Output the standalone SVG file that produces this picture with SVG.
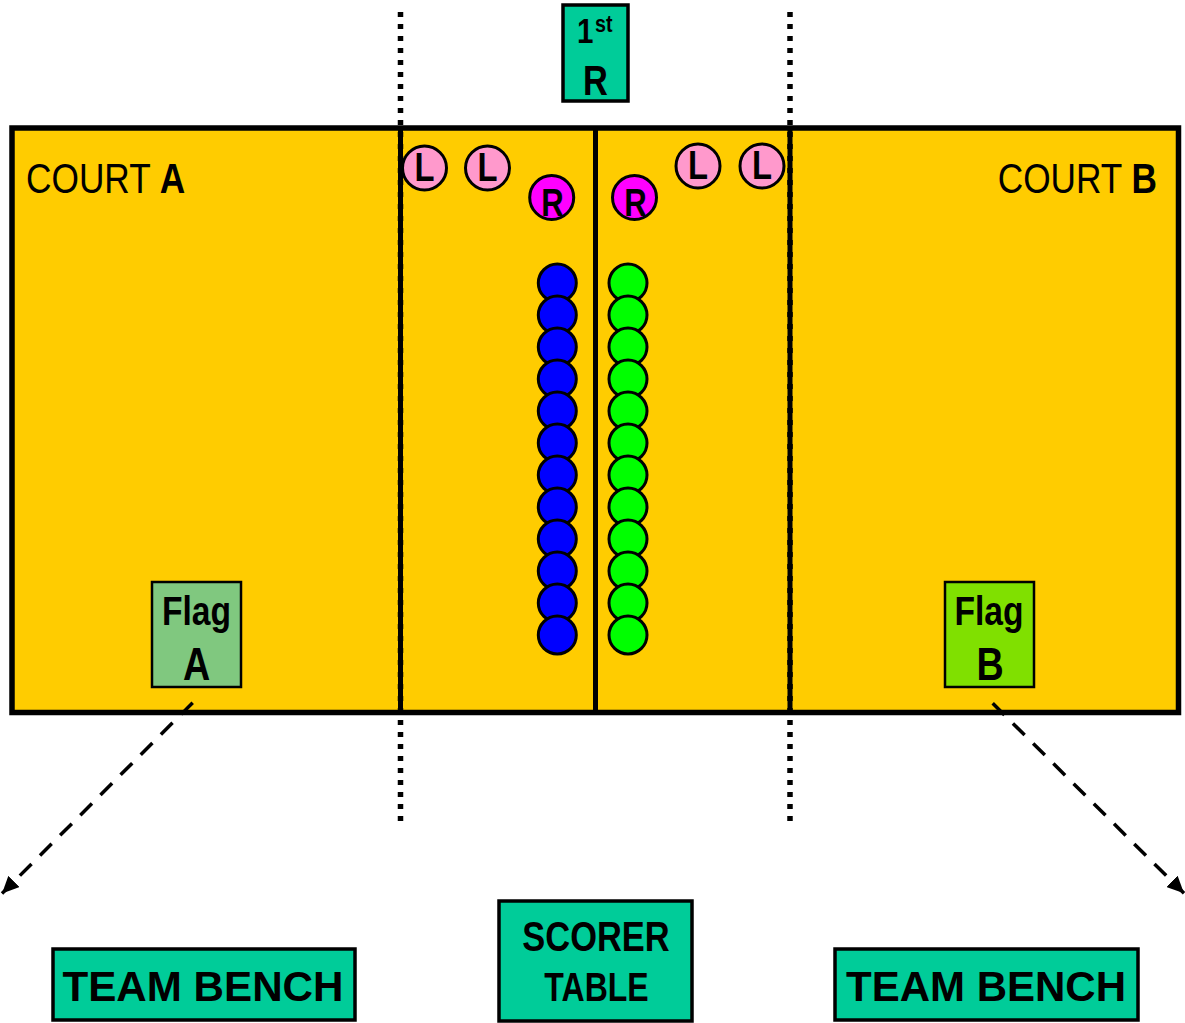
<svg xmlns="http://www.w3.org/2000/svg" width="1185" height="1023" viewBox="0 0 1185 1023">
<style>
.t{font-family:"Liberation Sans",Arial,Helvetica,sans-serif;fill:#000}
.b{font-weight:bold}
.box{fill:#00CC99;stroke:#000;stroke-width:3.5}
.pl{fill:#FF99CC;stroke:#000;stroke-width:3}
.pr{fill:#FF00FF;stroke:#000;stroke-width:3}
.bl{fill:#0000FF;stroke:#000;stroke-width:3}
.gr{fill:#00FF00;stroke:#000;stroke-width:3}
.dot{stroke:#000;stroke-width:5.5;stroke-dasharray:5 7;fill:none}
.ln{stroke:#000;stroke-width:5;fill:none}
.arr{stroke:#000;stroke-width:3.5;stroke-dasharray:16.5 12;fill:none;marker-end:url(#ah)}
</style>
<defs>
<marker id="ah" markerUnits="userSpaceOnUse" markerWidth="18" markerHeight="16" refX="17" refY="8" orient="auto">
<path d="M0,0 L17,8 L0,16 z" fill="#000"/>
</marker>
</defs>
<rect width="1185" height="1023" fill="#fff"/>
<g id="court">
<rect x="12" y="128" width="1166.5" height="584.5" fill="#FFCC00" stroke="#000" stroke-width="5.5"/>
<line class="ln" x1="400.5" y1="128" x2="400.5" y2="712.5"/>
<line class="ln" x1="595.5" y1="128" x2="595.5" y2="712.5"/>
<line class="ln" x1="790" y1="128" x2="790" y2="712.5"/>
</g>
<g id="dotted-lines">
<line class="dot" x1="400.5" y1="12" x2="400.5" y2="828"/>
<line class="dot" x1="790" y1="12" x2="790" y2="828"/>
</g>
<g id="court-a-label">
<text class="t" font-size="43" transform="translate(26,193) scale(0.82,1)">COURT <tspan class="b">A</tspan></text>
</g>
<g id="court-b-label">
<text class="t" font-size="43" text-anchor="end" transform="translate(1157,193) scale(0.82,1)">COURT <tspan class="b">B</tspan></text>
</g>
<g id="first-referee">
<rect class="box" x="563" y="5" width="65" height="96"/>
<text class="t b" font-size="36" transform="translate(577,43) scale(0.82,1)">1</text>
<text class="t b" font-size="24" transform="translate(595,32) scale(0.82,1)">st</text>
<text class="t b" font-size="42" text-anchor="middle" transform="translate(595.5,95) scale(0.82,1)">R</text>
</g>
<g id="line-judge-1"><circle class="pl" cx="424.5" cy="168" r="22"/><text class="t b" font-size="40" text-anchor="middle" transform="translate(424.5,181) scale(0.82,1)">L</text></g>
<g id="line-judge-2"><circle class="pl" cx="487.5" cy="168" r="22"/><text class="t b" font-size="40" text-anchor="middle" transform="translate(487.5,181) scale(0.82,1)">L</text></g>
<g id="line-judge-3"><circle class="pl" cx="698" cy="166" r="22"/><text class="t b" font-size="40" text-anchor="middle" transform="translate(698,179) scale(0.82,1)">L</text></g>
<g id="line-judge-4"><circle class="pl" cx="762" cy="166" r="22"/><text class="t b" font-size="40" text-anchor="middle" transform="translate(762,179) scale(0.82,1)">L</text></g>
<g id="referee-left"><circle class="pr" cx="551.7" cy="197.5" r="22"/><text class="t b" font-size="38" text-anchor="middle" transform="translate(552.5,215.5) scale(0.82,1)">R</text></g>
<g id="referee-right"><circle class="pr" cx="634.5" cy="197.5" r="22"/><text class="t b" font-size="38" text-anchor="middle" transform="translate(635.5,215.5) scale(0.82,1)">R</text></g>
<g id="team-a-players">
<circle class="bl" cx="557.3" cy="283" r="19"/>
<circle class="bl" cx="557.3" cy="315" r="19"/>
<circle class="bl" cx="557.3" cy="347" r="19"/>
<circle class="bl" cx="557.3" cy="379" r="19"/>
<circle class="bl" cx="557.3" cy="411" r="19"/>
<circle class="bl" cx="557.3" cy="443" r="19"/>
<circle class="bl" cx="557.3" cy="475" r="19"/>
<circle class="bl" cx="557.3" cy="507" r="19"/>
<circle class="bl" cx="557.3" cy="539" r="19"/>
<circle class="bl" cx="557.3" cy="571" r="19"/>
<circle class="bl" cx="557.3" cy="603" r="19"/>
<circle class="bl" cx="557.3" cy="635" r="19"/>
</g>
<g id="team-b-players">
<circle class="gr" cx="628" cy="283" r="19"/>
<circle class="gr" cx="628" cy="315" r="19"/>
<circle class="gr" cx="628" cy="347" r="19"/>
<circle class="gr" cx="628" cy="379" r="19"/>
<circle class="gr" cx="628" cy="411" r="19"/>
<circle class="gr" cx="628" cy="443" r="19"/>
<circle class="gr" cx="628" cy="475" r="19"/>
<circle class="gr" cx="628" cy="507" r="19"/>
<circle class="gr" cx="628" cy="539" r="19"/>
<circle class="gr" cx="628" cy="571" r="19"/>
<circle class="gr" cx="628" cy="603" r="19"/>
<circle class="gr" cx="628" cy="635" r="19"/>
</g>
<g id="flag-a">
<rect x="152" y="582" width="89" height="105" fill="#80C87F" stroke="#000" stroke-width="2.5"/>
<text class="t b" font-size="41" text-anchor="middle" transform="translate(196.5,624.5) scale(0.82,1)">Flag</text>
<text class="t b" font-size="46" text-anchor="middle" transform="translate(196.5,680) scale(0.82,1)">A</text>
</g>
<g id="flag-b">
<rect x="945" y="582" width="89" height="105" fill="#80E000" stroke="#000" stroke-width="2.5"/>
<text class="t b" font-size="41" text-anchor="middle" transform="translate(989,624.5) scale(0.82,1)">Flag</text>
<text class="t b" font-size="46" text-anchor="middle" transform="translate(990,680) scale(0.82,1)">B</text>
</g>
<g id="connectors">
<line class="arr" x1="192.7" y1="702.7" x2="2" y2="893.5"/>
<line class="arr" x1="992.7" y1="703.3" x2="1184" y2="893.3"/>
</g>
<g id="team-bench-a">
<rect class="box" x="53" y="949" width="302" height="71"/>
<text class="t b" font-size="42" text-anchor="middle" textLength="281" lengthAdjust="spacingAndGlyphs" x="203" y="1001">TEAM BENCH</text>
</g>
<g id="scorer-table">
<rect class="box" x="499" y="901" width="193" height="120"/>
<text class="t b" font-size="42" text-anchor="middle" transform="translate(596,951) scale(0.82,1)">SCORER</text>
<text class="t b" font-size="40" text-anchor="middle" transform="translate(596.5,1000.5) scale(0.8,1)">TABLE</text>
</g>
<g id="team-bench-b">
<rect class="box" x="835" y="949" width="303" height="71"/>
<text class="t b" font-size="42" text-anchor="middle" textLength="280" lengthAdjust="spacingAndGlyphs" x="986" y="1001">TEAM BENCH</text>
</g>
</svg>
